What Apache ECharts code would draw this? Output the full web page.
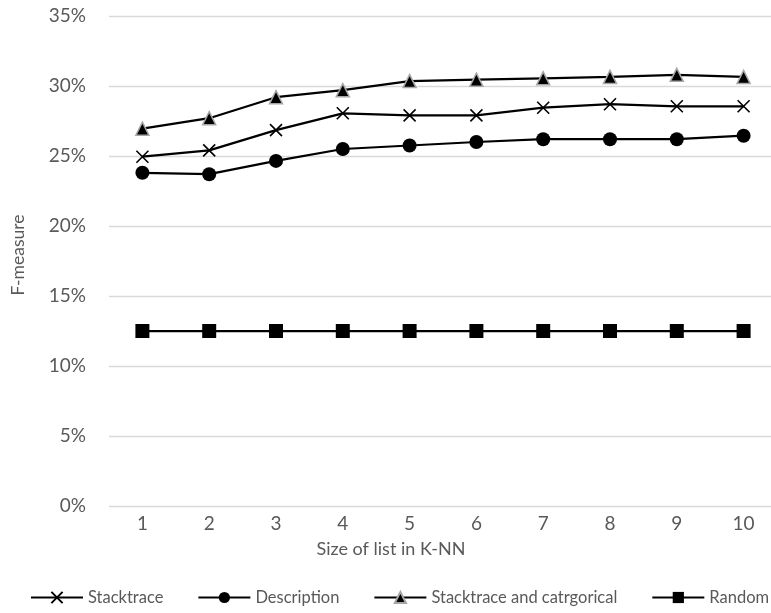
<!DOCTYPE html>
<html>
<head>
<meta charset="utf-8">
<script src="https://cdn.jsdelivr.net/npm/echarts@6/dist/echarts.min.js"></script>
<style>
html,body{margin:0;padding:0;background:#fff;}
#chart{width:771px;height:613px;}
</style>
</head>
<body>
<div id="chart"></div>
<script>
const categories = ['1','2','3','4','5','6','7','8','9','10'];
const stacktrace = [24.95, 25.4, 26.85, 28.05, 27.9, 27.9, 28.45, 28.7, 28.55, 28.55];
const description = [23.8, 23.7, 24.65, 25.5, 25.75, 26.0, 26.2, 26.2, 26.2, 26.45];
const stackCat = [26.95, 27.7, 29.2, 29.7, 30.35, 30.45, 30.55, 30.65, 30.8, 30.65];
const random = [12.5, 12.5, 12.5, 12.5, 12.5, 12.5, 12.5, 12.5, 12.5, 12.5];
const yTicks = {min: 0, max: 35, interval: 5};

const FONT = 'Lato';
const GRAY = '#595959';
const crossPath = 'path://M0,0 L10,10 M10,0 L0,10';

const chart = echarts.init(document.getElementById('chart'), null, {renderer: 'canvas'});
function mk(name, data, symbol, size, itemStyle) {
  return {
    name, type: 'line', data, symbol, symbolSize: size,
    showAllSymbol: true,
    lineStyle: {color: '#000', width: 2.25},
    itemStyle: itemStyle,
    emphasis: {disabled: true},
    animation: false
  };
}
chart.setOption({
  animation: false,
  textStyle: {fontFamily: FONT},
  grid: {left: 109, top: 16, width: 668, height: 490, containLabel: false, outerBoundsMode: 'none'},
  legend: {
    left: 30, right: -30, top: 589, padding: 0, itemWidth: 52, itemHeight: 14, itemGap: 34,
    textStyle: {color: GRAY, fontSize: 16.5, fontFamily: FONT},
    data: ['Stacktrace', 'Description', 'Stacktrace and catrgorical', 'Random']
  },
  xAxis: {
    type: 'category', data: categories, boundaryGap: true,
    axisLine: {show: false}, axisTick: {show: false},
    axisLabel: {color: GRAY, fontSize: 19, fontFamily: FONT, margin: 8},
    splitLine: {show: false},
    name: 'Size of list in K-NN', nameLocation: 'middle', nameGap: 34,
    nameTextStyle: {color: GRAY, fontSize: 18, fontFamily: FONT, padding: [0, 104, 0, 0]}
  },
  yAxis: {
    type: 'value', min: yTicks.min, max: yTicks.max, interval: yTicks.interval,
    axisLine: {show: false}, axisTick: {show: false},
    axisLabel: {color: GRAY, fontSize: 19, fontFamily: FONT, margin: 23, formatter: '{value}%'},
    splitLine: {show: true, lineStyle: {color: '#d9d9d9', width: 1.3}},
    name: 'F-measure', nameLocation: 'middle', nameGap: 82, nameRotate: 90,
    nameTextStyle: {color: GRAY, fontSize: 17.5, fontFamily: FONT, padding: [0, 0, 0, 12]}
  },
  series: [
    mk('Stacktrace', stacktrace, crossPath, 12, {color: '#000', borderColor: '#000', borderWidth: 1.6}),
    mk('Description', description, 'circle', 14, {color: '#000', borderColor: '#000', borderWidth: 0}),
    mk('Stacktrace and catrgorical', stackCat, 'triangle', 13, {color: '#000', borderColor: '#a6a6a6', borderWidth: 1.5}),
    mk('Random', random, 'rect', 14, {color: '#000', borderColor: '#000', borderWidth: 0})
  ]
});
</script>
</body>
</html>
